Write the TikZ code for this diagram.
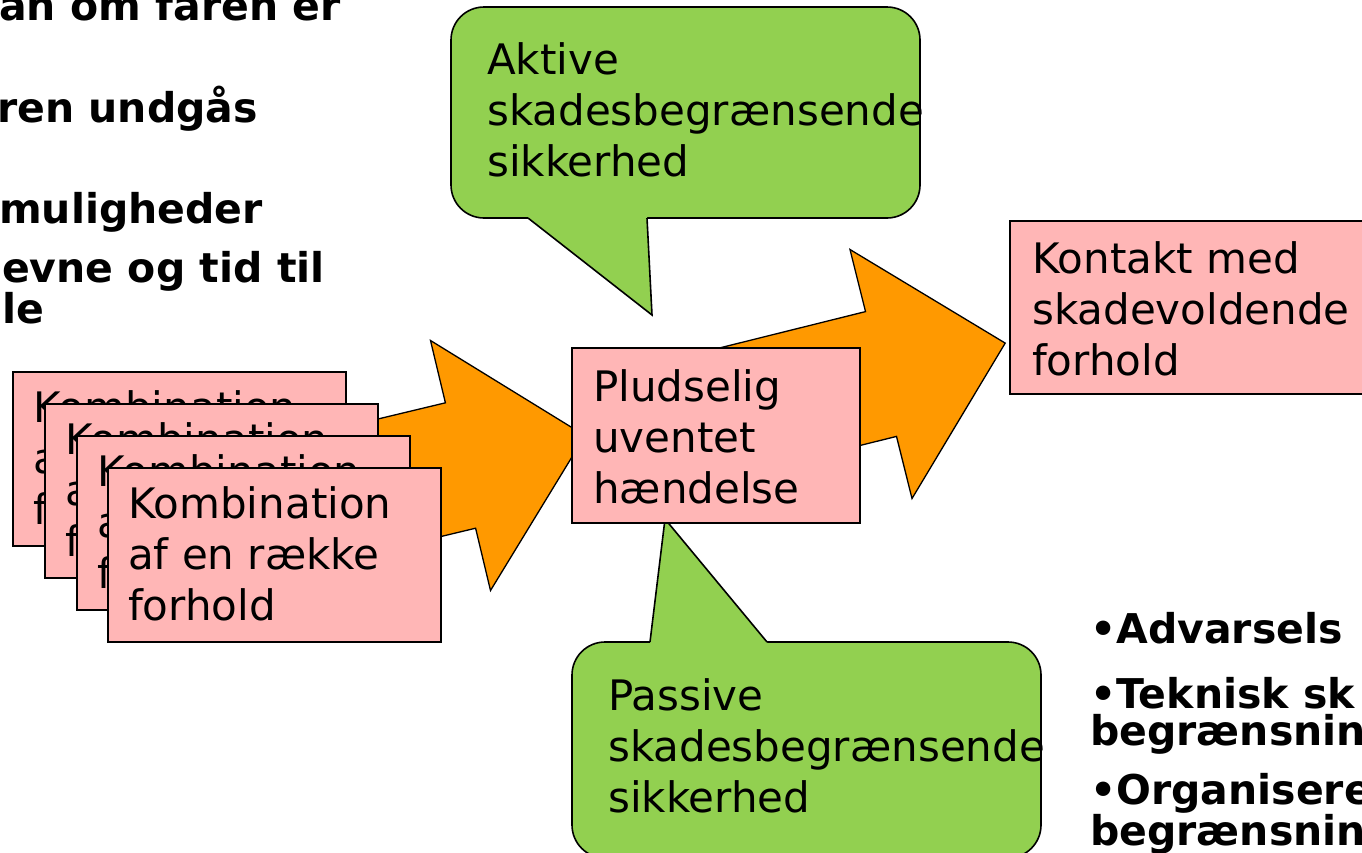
\documentclass[tikz,border=0pt]{standalone}
\usepackage{fontspec}
\setmainfont{DejaVu Sans}
\usetikzlibrary{calc}
\definecolor{boxpink}{RGB}{255,182,182}
\definecolor{floworange}{RGB}{255,153,0}
\definecolor{notegreen}{RGB}{146,208,80}

\begin{document}
% multi-line text nodes are placed by the baseline of their last line
\begin{tikzpicture}[x=1pt,y=-1pt,
  pinkbox/.style={draw=black, line width=2pt, fill=boxpink, rectangle,
    inner sep=0pt, outer sep=0pt, anchor=north west},
  bodytext/.style={anchor=base west, align=left, inner sep=0pt,
    font=\fontsize{42}{51}\selectfont},
  boldtext/.style={anchor=base west, align=left, inner sep=0pt,
    font=\bfseries\fontsize{41}{36.5}\selectfont},
  flowarrow/.style={draw=black, line width=1.3pt, fill=floworange, line join=miter},
  notebody/.style={draw=black, line width=1.6pt, fill=notegreen, rectangle,
    rounded corners=33pt, inner sep=0pt, outer sep=0pt, anchor=north west},
  noteedge/.style={draw=black, line width=1.6pt, line join=miter},
]
\useasboundingbox (0,0) rectangle (1362,852);
\clip (0,0) rectangle (1362,852);

% bold text running in from the left edge
\node[boldtext] (q1) at (-1,20) {an om faren er};
\node[boldtext] (q2) at (-3,122) {ren undgås};
\node[boldtext] (q3) at (-1,223) {muligheder};
\node[boldtext] (q4) at (2,323) {evne og tid til\\le};

% bullet list at the lower right
\node[boldtext] (b1) at (1090,643) {•Advarsels};
\node[boldtext] (b2) at (1090,745) {•Teknisk sk\\begrænsnin};
\node[boldtext] (b3) at (1090,845) {•Organisere\\begrænsnin};

% first block arrow (behind the stacked boxes)
\coordinate (a1tt) at (153.7,472.8);
\coordinate (a1nt) at (445.4,402.8);
\coordinate (a1bt) at (430.5,340.5);
\coordinate (a1tip) at (585,435.6);
\coordinate (a1bb) at (490.5,590.5);
\coordinate (a1nb) at (475.6,528.2);
\coordinate (a1tb) at (183.9,598.2);
\draw[flowarrow] (a1tt) -- (a1nt) -- (a1bt) -- (a1tip) -- (a1bb) -- (a1nb) -- (a1tb) -- cycle;

% second block arrow
\coordinate (a2tt) at (622.9,372.0);
\coordinate (a2nt) at (865.5,311.6);
\coordinate (a2bt) at (850,249.5);
\coordinate (a2tip) at (1005.2,343.1);
\coordinate (a2bb) at (912,498.5);
\coordinate (a2nb) at (896.5,436.4);
\coordinate (a2tb) at (653.9,496.8);
\draw[flowarrow] (a2tt) -- (a2nt) -- (a2bt) -- (a2tip) -- (a2bb) -- (a2nb) -- (a2tb) -- cycle;

% upper speech bubble
\node[notebody, minimum width=469pt, minimum height=211pt] (act) at (451,7) {};
\coordinate (actL) at (528,218);
\coordinate (actR) at (647,218);
\coordinate (actTip) at (652,315);
\fill[notegreen] ($(actL)+(0,-4)$) -- (actL) -- (actTip) -- (actR) -- ($(actR)+(0,-4)$) -- cycle;
\draw[noteedge] (actL) -- (actTip) -- (actR);
\node[bodytext] (actT) at (487,176) {Aktive\\skadesbegrænsende\\sikkerhed};

% lower speech bubble
\node[notebody, minimum width=469pt, minimum height=216pt] (pas) at (572,642) {};
\coordinate (pasL) at (650,642);
\coordinate (pasR) at (767,642);
\coordinate (pasTip) at (665,519);
\fill[notegreen] ($(pasL)+(0,4)$) -- (pasL) -- (pasTip) -- (pasR) -- ($(pasR)+(0,4)$) -- cycle;
\draw[noteedge] (pasL) -- (pasTip) -- (pasR);
\node[bodytext] (pasT) at (608,812) {Passive\\skadesbegrænsende\\sikkerhed};

% stack of cause boxes
\node[pinkbox, minimum width=333pt, minimum height=174pt] (k1) at (13,372) {};
\node[bodytext] (k1t) at ($(k1.north west)+(20,152)$) {Kombination\\af en række\\forhold};
\node[pinkbox, minimum width=333pt, minimum height=174pt] (k2) at (45,404) {};
\node[bodytext] (k2t) at ($(k2.north west)+(20,152)$) {Kombination\\af en række\\forhold};
\node[pinkbox, minimum width=333pt, minimum height=174pt] (k3) at (77,436) {};
\node[bodytext] (k3t) at ($(k3.north west)+(20,152)$) {Kombination\\af en række\\forhold};
\node[pinkbox, minimum width=333pt, minimum height=174pt] (k4) at (108,468) {};
\node[bodytext] (k4t) at ($(k4.north west)+(20,152)$) {Kombination\\af en række\\forhold};

% event box
\node[pinkbox, minimum width=288pt, minimum height=175pt] (pl) at (572,348) {};
\node[bodytext] (plt) at ($(pl.north west)+(21,155)$) {Pludselig\\uventet\\hændelse};

% contact box
\node[pinkbox, minimum width=360pt, minimum height=173pt] (ko) at (1010,221) {};
\node[bodytext] (kot) at ($(ko.north west)+(22,154)$) {Kontakt med\\skadevoldende\\forhold};
\end{tikzpicture}
\end{document}
